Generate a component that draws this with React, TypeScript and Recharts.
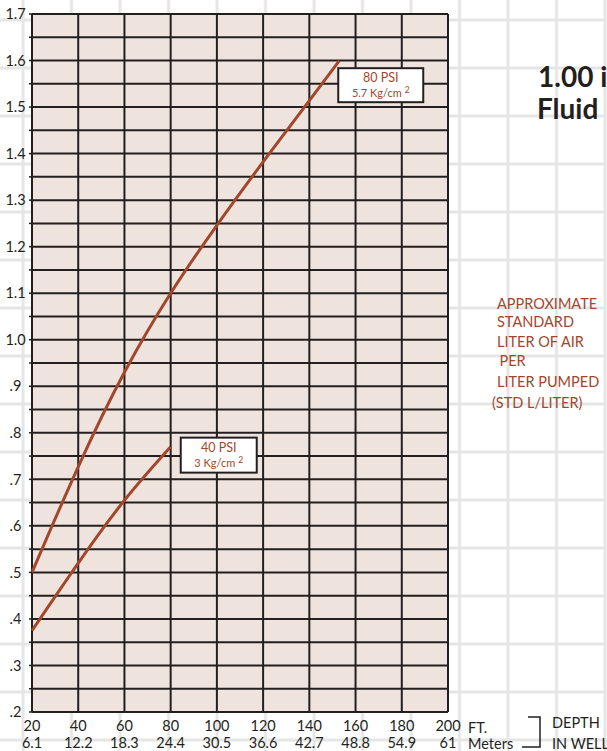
import React from 'react';
import { LineChart, Line, XAxis, YAxis, CartesianGrid, ReferenceDot } from 'recharts';

// depth in well (x axis)
const depthFt = [20, 40, 60, 80, 100, 120, 140, 160, 180, 200];
const depthMeters = ['6.1', '12.2', '18.3', '24.4', '30.5', '36.6', '42.7', '48.8', '54.9', '61'];

// air ratio (left axis) and the matching STD L/LITER labels (right axis)
const airTicks = [
  0.2, 0.25, 0.3, 0.35, 0.4, 0.45, 0.5, 0.55, 0.6, 0.65, 0.7, 0.75, 0.8, 0.85, 0.9, 0.95,
  1.0, 1.05, 1.1, 1.15, 1.2, 1.25, 1.3, 1.35, 1.4, 1.45, 1.5, 1.55, 1.6, 1.65, 1.7,
];
const airMajor = [0.2, 0.3, 0.4, 0.5, 0.6, 0.7, 0.8, 0.9, 1.0, 1.1, 1.2, 1.3, 1.4, 1.5, 1.6, 1.7];
const stdLiterLabels = ['1.5', '2.2', '3.0', '3.7', '4.5', '5.2', '6.0', '6.7', '7.5', '8.2', '9.0', '9.7', '10.5', '11.2', '12', '12.7'];

// curves
const psi80Ft = [20, 40, 60, 80, 100, 120, 140, 153];
const psi80Air = [0.5, 0.727, 0.93, 1.1, 1.246, 1.382, 1.514, 1.6];
const psi40Ft = [20, 40, 60, 80];
const psi40Air = [0.375, 0.52, 0.655, 0.77];

// label boxes (data coords of their centres)
const box40 = { ft: 100.8, air: 0.752, title: '40 PSI', unit: '3 Kg/cm ', w: 76, h: 35 };
const box80 = { ft: 170.9, air: 1.547, title: '80 PSI', unit: '5.7 Kg/cm ', w: 85, h: 34 };

const psi80 = psi80Ft.map((ft, i) => ({ ft, air: psi80Air[i] }));
const psi40 = psi40Ft.map((ft, i) => ({ ft, air: psi40Air[i] }));

const INK = '#231f20';
const RUST = '#a2472b';
const PAPER_GRID = '#e6e6e6';
const FONT = 'Lato, "Open Sans", sans-serif';

const LeftTick = (props: any) => {
  const { x, y, payload } = props;
  const v = payload.value as number;
  if (Math.round(v * 100) % 10 !== 0) return null;
  let s = v.toFixed(1);
  if (s.startsWith('0')) s = s.slice(1);
  return (
    <text x={x - 11.5} y={y} dy="0.36em" textAnchor="middle" fill={INK} fontSize={14.5} fontFamily={FONT}>
      {s}
    </text>
  );
};

const RightTick = (props: any) => {
  const { x, y, index } = props;
  return (
    <text x={x + 15} y={y} dy="0.3em" textAnchor="start" fill={INK} fontSize={14.5} fontFamily={FONT}>
      {stdLiterLabels[index]}
    </text>
  );
};

const BottomTick = (props: any) => {
  const { x, y, index } = props;
  return (
    <g fill={INK} fontSize={14.5} fontFamily={FONT}>
      <text x={x} y={y + 19} textAnchor="middle">{depthFt[index]}</text>
      <text x={x} y={y + 36} textAnchor="middle">{depthMeters[index]}</text>
    </g>
  );
};

const makeBox = (b: typeof box40) => (props: any) => {
  const { cx, cy } = props;
  return (
    <g>
      <rect x={cx - b.w / 2} y={cy - b.h / 2} width={b.w} height={b.h} fill="#fff" stroke={INK} strokeWidth={2} />
      <text x={cx} y={cy - 3.5} textAnchor="middle" fill={RUST} fontSize={12.5} fontFamily={FONT}>
        {b.title}
      </text>
      <text x={cx} y={cy + 11.5} textAnchor="middle" fill={RUST} fontSize={11} fontFamily={FONT}>
        {b.unit}
        <tspan dy={-4} fontSize={8.5}>2</tspan>
      </text>
    </g>
  );
};

const redLines = [
  { text: 'APPROXIMATE', x: 497, y: 304 },
  { text: 'STANDARD', x: 497, y: 322.5 },
  { text: 'LITER OF AIR', x: 497, y: 342 },
  { text: 'PER', x: 499.5, y: 361.7 },
  { text: 'LITER PUMPED', x: 497, y: 382 },
  { text: '(STD L/LITER)', x: 492, y: 403 },
];

const textStyle = (left: number, top: number): React.CSSProperties => ({
  position: 'absolute',
  left,
  top,
  fontSize: 14.5,
  lineHeight: '14px',
  color: INK,
  whiteSpace: 'nowrap',
});

export default function App() {
  return (
    <div
      style={{
        position: 'absolute',
        left: 0,
        top: 0,
        width: 607,
        height: 751,
        overflow: 'hidden',
        background: '#fff',
        fontFamily: FONT,
      }}
    >
      {/* faint page grid behind everything */}
      <svg style={{ position: 'absolute', left: 0, top: 0 }} width={607} height={751}>
        <defs>
          <pattern id="paper" x={0} y={0} width={48.5} height={48} patternUnits="userSpaceOnUse">
            <rect x={21.5} y={0} width={3} height={48} fill={PAPER_GRID} />
            <rect x={0} y={18.5} width={48.5} height={3} fill={PAPER_GRID} />
          </pattern>
        </defs>
        <rect x={0} y={0} width={607} height={751} fill="url(#paper)" />
      </svg>
      <div style={{ position: 'absolute', left: 0, top: 0 }}>
        <LineChart width={607} height={751} margin={{ top: 14, right: 0, bottom: 0, left: 0 }}>
          <CartesianGrid fill="#eee3dd" fillOpacity={1} stroke={INK} strokeWidth={2} />
          <XAxis
            dataKey="ft"
            type="number"
            domain={[20, 200]}
            ticks={depthFt}
            interval={0}
            height={39}
            axisLine={false}
            tickLine={false}
            tickSize={0}
            tickMargin={0}
            tick={<BottomTick />}
          />
          <YAxis
            yAxisId={0}
            type="number"
            domain={[0.2, 1.7]}
            ticks={airTicks}
            interval={0}
            width={32}
            axisLine={false}
            tickLine={{ stroke: INK, strokeWidth: 1.5 }}
            tickSize={3}
            tickMargin={2}
            tick={<LeftTick />}
          />
          <YAxis
            yAxisId="right"
            orientation="right"
            type="number"
            domain={[0.2, 1.7]}
            ticks={airMajor}
            interval={0}
            width={159}
            axisLine={false}
            tickLine={false}
            tickSize={0}
            tickMargin={0}
            tick={<RightTick />}
          />
          <Line
            data={psi80}
            dataKey="air"
            type="natural"
            stroke={RUST}
            strokeWidth={3}
            dot={false}
            isAnimationActive={false}
          />
          <Line
            data={psi40}
            dataKey="air"
            type="natural"
            stroke={RUST}
            strokeWidth={3}
            dot={false}
            isAnimationActive={false}
          />
          <ReferenceDot x={box40.ft} y={box40.air} r={0} shape={makeBox(box40)} />
          <ReferenceDot x={box80.ft} y={box80.air} r={0} shape={makeBox(box80)} />
        </LineChart>
      </div>

      {redLines.map((l) => (
        <div
          key={l.text}
          style={{
            position: 'absolute',
            left: l.x,
            top: l.y - 9.5,
            lineHeight: '18px',
            fontSize: 14.5,
            color: RUST,
            whiteSpace: 'nowrap',
          }}
        >
          {l.text}
        </div>
      ))}

      <div style={{ position: 'absolute', left: 538, top: 60, fontSize: 28, fontWeight: 700, lineHeight: '32px', color: INK, whiteSpace: 'nowrap' }}>
        1.00 inch
      </div>
      <div style={{ position: 'absolute', left: 537, top: 92, fontSize: 28, fontWeight: 700, lineHeight: '32px', color: INK, whiteSpace: 'nowrap' }}>
        Fluid Line
      </div>

      <div style={textStyle(468, 720.5)}>FT.</div>
      <div style={textStyle(468, 737)}>Meters</div>
      <div style={textStyle(552, 716)}>DEPTH</div>
      <div style={textStyle(552, 737)}>IN WELL</div>
      <svg style={{ position: 'absolute', left: 0, top: 0 }} width={607} height={751} pointerEvents="none">
        <polyline points="528,717 540,717 540,747 522,747" fill="none" stroke={INK} strokeWidth={1.5} />
      </svg>
    </div>
  );
}
